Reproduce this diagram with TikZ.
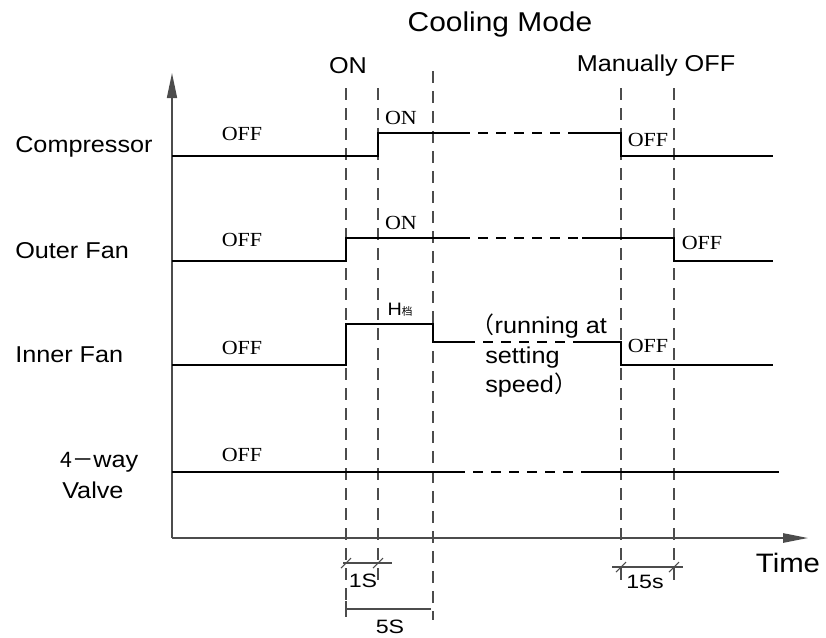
\documentclass[tikz,border=0pt]{standalone}
\usepackage{fontspec}
\usetikzlibrary{arrows.meta}
\newfontfamily\arialx[FakeStretch=1.1]{Liberation Sans}
\newfontfamily\timesx[FakeStretch=1.1]{Liberation Serif}
\newfontfamily\cadx[FakeStretch=1.2]{Liberation Sans}
\newfontfamily\cjkx{Noto Sans CJK SC}
\begin{document}
\begin{tikzpicture}[x=0.75pt,y=-0.75pt,
  sig/.style={line width=0.9pt,black},
  sigdash/.style={sig,dash pattern=on 7.5pt off 6pt},
  guide/.style={line width=0.8pt,gray!60!black,dash pattern=on 9pt off 6pt},
  axis/.style={line width=1.2pt,gray!60!black},
  dimline/.style={line width=0.8pt,gray!60!black},
  lab/.style={font=\arialx\fontsize{17.2}{20}\selectfont,inner sep=0pt},
  st/.style={font=\timesx\fontsize{15}{18}\selectfont,inner sep=0pt},
  dimtxt/.style={font=\cadx\fontsize{14.5}{16}\selectfont,inner sep=0pt}]
\useasboundingbox (0,0) rectangle (826,637);
% axes
\coordinate (o) at (172,538);
\coordinate (ytip) at (172,73);
\coordinate (xtip) at (808,538);
\draw[axis,-{Triangle[length=18.75pt,width=7.5pt]}] (o) -- (ytip);
\draw[axis,-{Triangle[length=18.75pt,width=7pt]}] (o) -- (xtip);
% guides
\draw[guide] (346,88) -- (346,617);
\draw[guide] (378,88) -- (378,583);
\draw[guide] (433,71) -- (433,620);
\draw[guide] (621,88) -- (621,583);
\draw[guide] (674,88) -- (674,583);
% compressor
\coordinate (c0) at (172,156);
\draw[sig] (c0) -- (378,156) -- (378,133) -- (460,133);
\draw[sigdash] (460,133) -- (578,133);
\draw[sig] (578,133) -- (621,133) -- (621,156) -- (773,156);
% outer fan
\coordinate (f0) at (172,261);
\draw[sig] (f0) -- (346,261) -- (346,238) -- (460,238);
\draw[sigdash] (460,238) -- (582,238);
\draw[sig] (582,238) -- (674,238) -- (674,261) -- (773,261);
% inner fan
\coordinate (i0) at (172,365);
\draw[sig] (i0) -- (346,365) -- (346,324) -- (433,324) -- (433,342) -- (465,342);
\draw[sigdash] (465,342) -- (583,342);
\draw[sig] (583,342) -- (621,342) -- (621,365) -- (773,365);
% 4-way valve
\coordinate (v0) at (172,472);
\draw[sig] (v0) -- (455,472);
\draw[sigdash] (455,472) -- (581,472);
\draw[sig] (581,472) -- (779,472);
% dimensions
\draw[dimline] (343,563) -- (392,563);
\draw[dimline] (341,568) -- (351,558);
\draw[dimline] (373,568) -- (383,558);
\draw[dimline] (346,609) -- (431,609);
\draw[dimline] (346,601) -- (346,617);
\draw[dimline] (612,567) -- (683,567);
\draw[dimline] (616,572) -- (626,562);
\draw[dimline] (669,572) -- (679,562);
\node[dimtxt] (d1) at (363,581) {1S};
\node[dimtxt] (d5) at (390,627) {5S};
\node[dimtxt] (d15) at (645,582) {15s};
% titles
\node[lab,font=\arialx\fontsize{20.4}{24}\selectfont] (title) at (500,24) {Cooling Mode};
\node[lab] (on) at (348,66) {ON};
\node[lab] (moff) at (656,66) {Manually OFF};
\node[lab,font=\arialx\fontsize{20}{24}\selectfont] (time) at (788,563) {Time};
% row labels
\node[lab,anchor=west] (lc) at (15,147) {Compressor};
\node[lab,anchor=west] (lo) at (15,251) {Outer Fan};
\node[lab,anchor=west] (li) at (15,355) {Inner Fan};
\node[lab,anchor=west] (lv1) at (60,462) {{\cjkx\fontsize{16}{18}\selectfont 4－}way};
\node[lab,anchor=west] (lv2) at (62,490) {Valve};
% state labels
\node[st] (s1) at (242,134) {OFF};
\node[st] (s2) at (242,240) {OFF};
\node[st] (s3) at (242,348) {OFF};
\node[st] (s4) at (242,455) {OFF};
\node[st] (s5) at (401,118) {ON};
\node[st] (s6) at (401,223) {ON};
\node[st] (s7) at (648,140) {OFF};
\node[st] (s8) at (702,243) {OFF};
\node[st] (s9) at (648,346) {OFF};
\node[lab,font=\arialx\fontsize{13.5}{16}\selectfont] (h) at (400,310) {H{\cjkx\fontsize{8}{10}\selectfont 档}};
\node[lab,anchor=base west] (r1) at (483,333) {\kern-0.5em{\cjkx （}running at};
\node[lab,anchor=base west] (r2) at (485,363) {setting};
\node[lab,anchor=base west] (r3) at (485,392) {speed{\cjkx ）}};
\end{tikzpicture}
\end{document}
